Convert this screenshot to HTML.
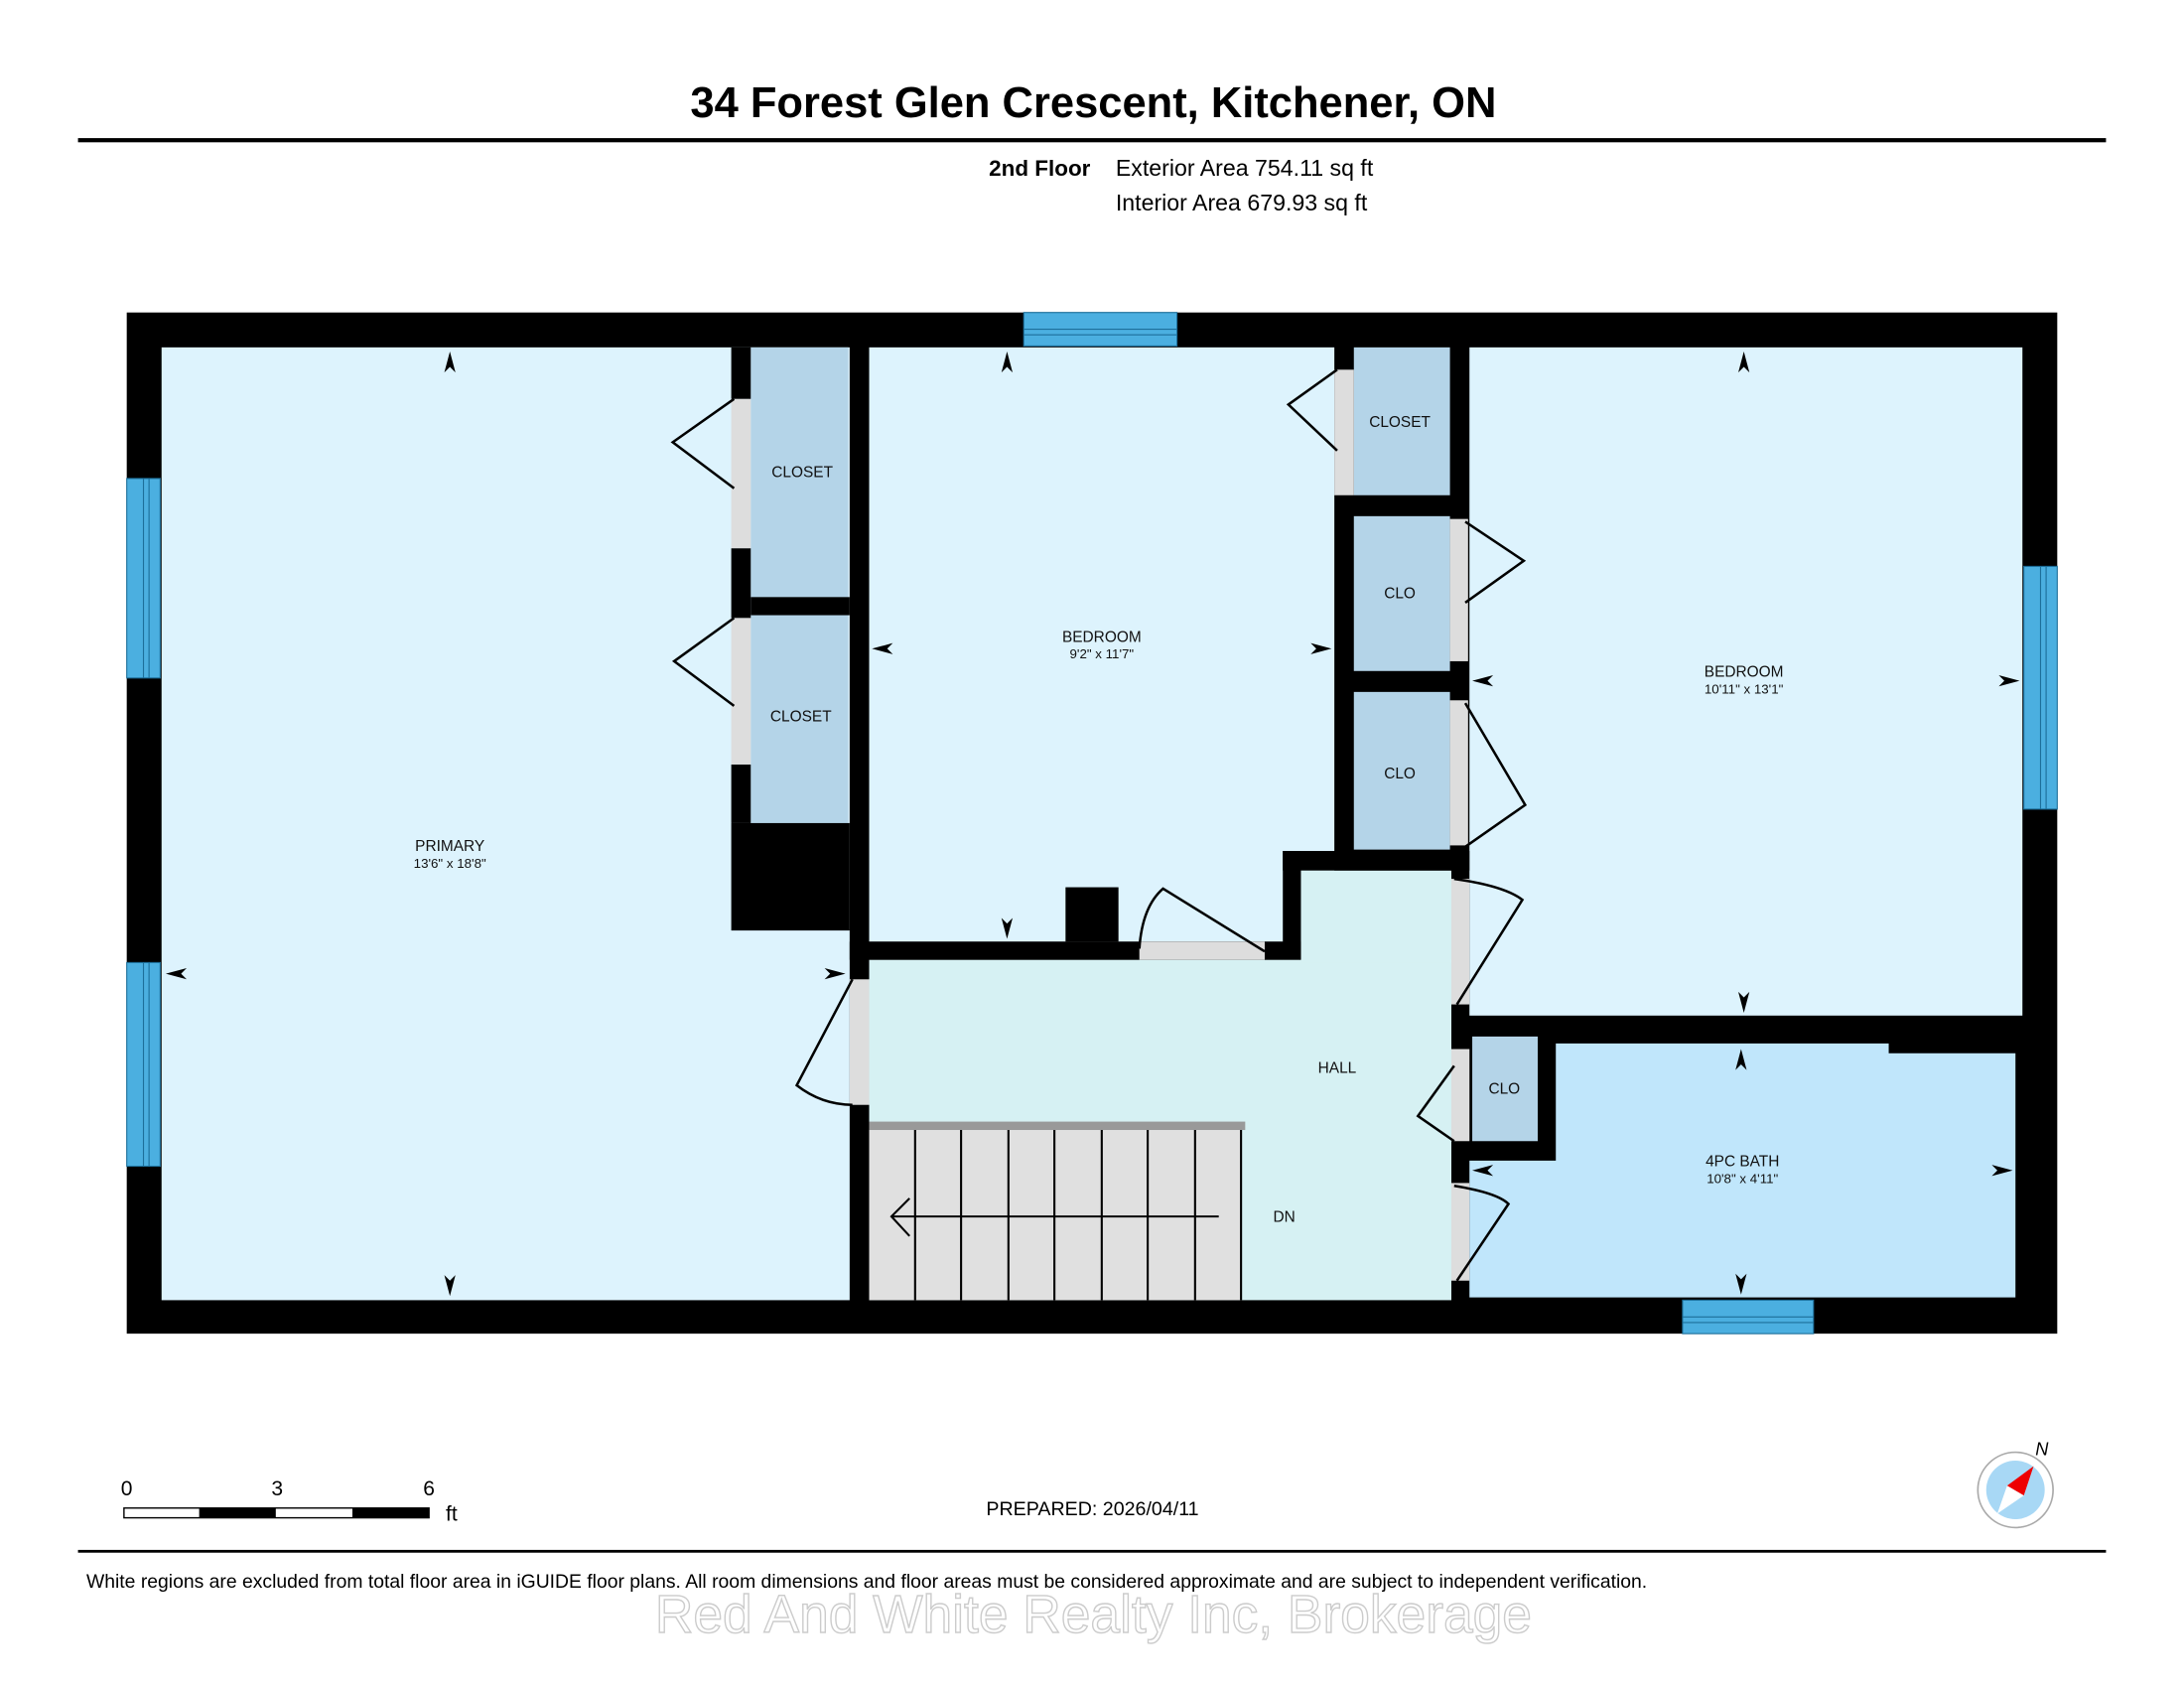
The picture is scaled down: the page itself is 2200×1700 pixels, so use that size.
<!DOCTYPE html>
<html><head><meta charset="utf-8"><style>
html,body{margin:0;padding:0;background:#fff;}
svg{display:block;}
text{font-family:"Liberation Sans",sans-serif;}
</style></head><body>
<svg width="2200" height="1700" viewBox="0 0 1568 1210" preserveAspectRatio="none" xmlns="http://www.w3.org/2000/svg">
<rect width="1568" height="1210" fill="#fff"/>
<text x="785" y="84" text-anchor="middle" font-size="31" font-weight="bold">34 Forest Glen Crescent, Kitchener, ON</text>
<rect x="56" y="99" width="1456" height="3" fill="#000"/>
<text x="710" y="126" font-size="16" font-weight="bold">2nd Floor</text>
<text x="801" y="126" font-size="16.5">Exterior Area 754.11 sq ft</text>
<text x="801" y="151" font-size="16.5">Interior Area 679.93 sq ft</text>

<rect x="91" y="224" width="1386" height="732" fill="#000"/>
<rect x="116" y="249" width="494" height="683" fill="#ddf3fd"/>
<rect x="539" y="249" width="70" height="179" fill="#b4d4e8"/>
<rect x="539" y="441" width="70" height="149" fill="#b4d4e8"/>
<rect x="525" y="590" width="85" height="77" fill="#000"/>
<rect x="525" y="249" width="14" height="37" fill="#000"/>
<rect x="525" y="393" width="14" height="50" fill="#000"/>
<rect x="525" y="548" width="14" height="42" fill="#000"/>
<rect x="539" y="428" width="71" height="13" fill="#000"/>
<rect x="525" y="286" width="14" height="107" fill="#ddd"/>
<rect x="525" y="443" width="14" height="105" fill="#ddd"/>
<rect x="624" y="249" width="334" height="426" fill="#ddf3fd"/>
<rect x="972" y="249" width="69" height="106" fill="#b4d4e8"/>
<rect x="958" y="265" width="14" height="90" fill="#ddd"/>
<rect x="972" y="370" width="69" height="111" fill="#b4d4e8"/>
<rect x="972" y="496" width="69" height="113" fill="#b4d4e8"/>
<rect x="1041" y="372" width="13" height="102" fill="#ddd"/>
<rect x="1041" y="502" width="13" height="104" fill="#ddd"/>
<rect x="1055" y="249" width="397" height="479" fill="#ddf3fd"/>
<rect x="624" y="688" width="418" height="244" fill="#d6f1f3"/>
<rect x="934" y="624" width="108" height="66" fill="#d6f1f3"/>
<rect x="921" y="610" width="134" height="14" fill="#000"/>
<rect x="921" y="610" width="13" height="78" fill="#000"/>
<rect x="610" y="675" width="311" height="13" fill="#000"/>
<rect x="765" y="636" width="38" height="39" fill="#000"/>
<rect x="818" y="675" width="90" height="13" fill="#ddd"/>
<rect x="610" y="702" width="14" height="90" fill="#ddd"/>
<rect x="624" y="810" width="267" height="122" fill="#e0e0e0"/>
<rect x="624" y="804" width="270" height="6" fill="#999"/>
<g stroke="#000" stroke-width="1.5">
<line x1="657" y1="810" x2="657" y2="932"/><line x1="690" y1="810" x2="690" y2="932"/><line x1="724" y1="810" x2="724" y2="932"/><line x1="757" y1="810" x2="757" y2="932"/><line x1="791" y1="810" x2="791" y2="932"/><line x1="824" y1="810" x2="824" y2="932"/><line x1="858" y1="810" x2="858" y2="932"/><line x1="891" y1="810" x2="891" y2="932"/>
<line x1="640" y1="872" x2="875" y2="872"/>
<polyline points="653,859 640,872 653,886" fill="none"/>
</g>
<rect x="1042" y="630" width="13" height="90" fill="#ddd"/>
<rect x="1042" y="752" width="13" height="66" fill="#ddd"/>
<rect x="1042" y="848" width="13" height="70" fill="#ddd"/>
<path d="M1055,832 H1117 V748 H1356 V755 H1447 V930 H1055Z" fill="#c0e6fb"/>
<rect x="1057" y="743" width="47" height="75" fill="#b4d4e8"/>
<g fill="#4bafe0" stroke="#1d6f9a" stroke-width="0.8">
<rect x="735" y="224" width="110" height="24"/>
<rect x="91" y="343" width="24" height="143"/>
<rect x="91" y="690" width="24" height="146"/>
<rect x="1453" y="406" width="24" height="174"/>
<rect x="1208" y="932" width="94" height="24"/>
</g>
<g stroke="#1d6f9a" stroke-width="0.8">
<line x1="735" y1="236" x2="845" y2="236"/><line x1="735" y1="240" x2="845" y2="240"/>
<line x1="103" y1="343" x2="103" y2="486"/><line x1="107" y1="343" x2="107" y2="486"/>
<line x1="103" y1="690" x2="103" y2="836"/><line x1="107" y1="690" x2="107" y2="836"/>
<line x1="1465" y1="406" x2="1465" y2="580"/><line x1="1469" y1="406" x2="1469" y2="580"/>
<line x1="1208" y1="944" x2="1302" y2="944"/><line x1="1208" y1="948" x2="1302" y2="948"/>
</g>
<g stroke="#000" stroke-width="1.8" fill="none">
<polyline points="527,286 483,317 527,350"/>
<polyline points="527,443 484,474 527,506"/>
<polyline points="960,265 925,290 960,323"/>
<polyline points="1052,374 1094,402 1052,432"/>
<polyline points="1052,504 1095,577 1052,607"/>
<path d="M818,680 Q820,650 835,637 L908,682"/>
<path d="M612,702 L572,778 Q590,792 612,792"/>
<path d="M1044,630 Q1080,635 1093,645 L1046,720"/>
<polyline points="1044,764 1018,800 1044,818"/>
<path d="M1044,850 Q1075,855 1083,863 L1046,918"/>
</g>
<g fill="#000">
<path d="M323,252 l-4,15 l4,-4 l4,4z"/>
<path d="M323,929 l-4,-15 l4,4 l4,-4z"/>
<path d="M119,698 l15,-4 l-4,4 l4,4z"/>
<path d="M607,698 l-15,-4 l4,4 l-4,4z"/>
<path d="M723,252 l-4,15 l4,-4 l4,4z"/>
<path d="M723,673 l-4,-15 l4,4 l4,-4z"/>
<path d="M626,465 l15,-4 l-4,4 l4,4z"/>
<path d="M956,465 l-15,-4 l4,4 l-4,4z"/>
<path d="M1252,252 l-4,15 l4,-4 l4,4z"/>
<path d="M1252,726 l-4,-15 l4,4 l4,-4z"/>
<path d="M1057,488 l15,-4 l-4,4 l4,4z"/>
<path d="M1450,488 l-15,-4 l4,4 l-4,4z"/>
<path d="M1250,752 l-4,15 l4,-4 l4,4z"/>
<path d="M1250,928 l-4,-15 l4,4 l4,-4z"/>
<path d="M1057,839 l15,-4 l-4,4 l4,4z"/>
<path d="M1445,839 l-15,-4 l4,4 l-4,4z"/>
</g>
<g font-size="11" text-anchor="middle" fill="#111">
<text x="576" y="342">CLOSET</text>
<text x="575" y="517">CLOSET</text>
<text x="1005" y="306">CLOSET</text>
<text x="1005" y="429">CLO</text>
<text x="1005" y="558">CLO</text>
<text x="1080" y="784">CLO</text>
<text x="323" y="610">PRIMARY</text>
<text x="323" y="622" font-size="9.5">13'6" x 18'8"</text>
<text x="791" y="460">BEDROOM</text>
<text x="791" y="472" font-size="9.5">9'2" x 11'7"</text>
<text x="1252" y="485">BEDROOM</text>
<text x="1252" y="497" font-size="9.5">10'11" x 13'1"</text>
<text x="1251" y="836">4PC BATH</text>
<text x="1251" y="848" font-size="9.5">10'8" x 4'11"</text>
<text x="960" y="769">HALL</text>
<text x="922" y="876">DN</text>
</g>
<text x="91" y="1072" font-size="15" text-anchor="middle">0</text>
<text x="199" y="1072" font-size="15" text-anchor="middle">3</text>
<text x="308" y="1072" font-size="15" text-anchor="middle">6</text>
<text x="320" y="1090" font-size="15">ft</text>
<rect x="89" y="1081" width="219" height="7" fill="#fff" stroke="#000" stroke-width="1"/>
<rect x="143" y="1081" width="55" height="7" fill="#000"/>
<rect x="253" y="1081" width="55" height="7" fill="#000"/>
<text x="708" y="1086" font-size="14">PREPARED: 2026/04/11</text>
<circle cx="1447" cy="1068" r="27" fill="#fff" stroke="#aaa" stroke-width="1.2"/>
<circle cx="1447" cy="1068" r="21" fill="#a8d8f5"/>
<path d="M1460,1051 L1441,1065 L1453,1072Z" fill="#e00"/>
<path d="M1441,1065 L1453,1072 L1434,1085Z" fill="#fff"/>
<text x="1466" y="1043" font-size="13" font-style="italic" text-anchor="middle">N</text>
<rect x="56" y="1111" width="1456" height="2" fill="#000"/>
<text x="62" y="1138" font-size="13.8">White regions are excluded from total floor area in iGUIDE floor plans. All room dimensions and floor areas must be considered approximate and are subject to independent verification.</text>
<text x="785" y="1170" font-size="38" text-anchor="middle" fill="#fff" stroke="#ccc" stroke-width="1">Red And White Realty Inc, Brokerage</text>
</svg>
</body></html>
